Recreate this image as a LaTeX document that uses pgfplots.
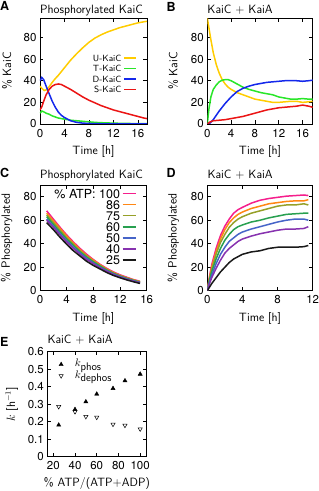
\documentclass[border=0pt]{standalone}
\usepackage{pgfplots}
\pgfplotsset{compat=1.18}
\usepackage{fontspec}
\newfontfamily\heros{TeX Gyre Heros}
\definecolor{cU}{RGB}{255,204,0}
\definecolor{cT}{RGB}{40,230,40}
\definecolor{cD}{RGB}{20,40,235}
\definecolor{cS}{RGB}{235,20,20}
\definecolor{p100}{RGB}{245,30,140}
\definecolor{p86}{RGB}{255,135,20}
\definecolor{p75}{RGB}{150,160,40}
\definecolor{p60}{RGB}{40,160,80}
\definecolor{p50}{RGB}{70,100,200}
\definecolor{p40}{RGB}{135,50,175}
\definecolor{p25}{RGB}{25,25,25}
\pgfplotsset{
  panel/.style={
    scale only axis, anchor=south west,
    tick align=inside, major tick length=3.5pt, minor tick num=0,
    axis line style={line width=0.7pt},
    every tick/.style={black, line width=0.6pt},
    /pgf/number format/assume math mode=true,
    ticklabel style={font=\heros\fontsize{11.5}{12}\selectfont},
    xticklabel style={yshift=-1.5pt},
    label style={font=\sffamily\fontsize{12}{13}\selectfont},
    title style={at={(0,1)}, anchor=base west, inner sep=0pt, font=\sffamily\fontsize{12}{13}\selectfont},
    xlabel style={at={(axis description cs:0.5,0)}, anchor=center},
    ylabel style={at={(axis description cs:0,0.5)}, anchor=center},
  },
  dl/.style={line width=1.5pt, no marks},
}
\begin{document}
\begin{tikzpicture}
\path[use as bounding box] (0pt,0pt) rectangle (319pt,491pt);
\tikzset{plabel/.style={anchor=north west, inner sep=0pt, font=\heros\bfseries\fontsize{12.5}{13}\selectfont}}
\node[plabel] at (0pt,490pt) {A};
\node[plabel] at (166.5pt,489pt) {B};
\node[plabel] at (0pt,323pt) {C};
\node[plabel] at (166.5pt,323pt) {D};
\node[plabel] at (0pt,154pt) {E};

% ---------- A ----------
\begin{axis}[panel, at={(40pt,367pt)}, width=107pt, height=106pt,
  xmin=0, xmax=17.5, ymin=0, ymax=98,
  xtick={0,4,8,12,16}, ytick={0,20,40,60,80},
  title={Phosphorylated KaiC}, title style={yshift=-1pt},
  xlabel={Time [h]}, ylabel={\% KaiC},
  xlabel style={yshift=-28pt}, ylabel style={yshift=33pt},
  legend style={draw=none, fill=none, inner sep=0pt, at={(0.907,0.656)}, anchor=north east,
    font=\sffamily\fontsize{9}{10}\selectfont, row sep=4pt, column sep=2pt,
    nodes={inner sep=0pt, text height=6.5pt, text depth=0pt}},
  legend cell align=right, legend plot pos=right,
  legend image code/.code={\draw[#1] (0pt,0pt) -- (12pt,0pt);},
]
\addplot[dl, cU] coordinates {(0,35) (0.3,33) (0.7,31) (1,31.5) (1.5,34.5) (2,38.5) (2.5,42) (3,45) (4,52) (5,59) (6,65) (7,70.5) (8,75.5) (9,79.5) (10,82.5) (11,85) (12,87) (13,89) (14,90.5) (15,92) (16,93.5) (17,94.5) (17.5,95)};
\addplot[dl, cT] coordinates {(0,10) (0.3,12) (0.7,11) (1,10) (1.5,9) (2,7.5) (2.5,6.5) (3,5.5) (4,4.5) (5,3.5) (6,3) (7,2.5) (8,2) (9,1.5) (10,1.2) (12,0.8) (14,0.5) (16,0.4) (17.5,0.3)};
\addplot[dl, cD] coordinates {(0,40) (0.3,43) (0.6,41) (1,35) (1.5,28) (2,21) (2.5,15.5) (3,11) (3.5,8) (4,6) (5,3) (6,1.5) (7,0.8) (8,0.5) (10,0.2) (12,0.1) (17.5,0)};
\addplot[dl, cS] coordinates {(0,13) (0.3,16) (0.6,21) (1,27) (1.5,32) (2,35) (2.5,36.5) (3,37) (3.5,36.5) (4,35) (5,32) (6,28.5) (7,25) (8,22) (9,19.5) (10,17) (11,15) (12,13) (13,11.5) (14,10) (15,8.5) (16,7) (17,5.5) (17.5,5)};
\legend{U-KaiC, T-KaiC, D-KaiC, S-KaiC}
\end{axis}

% ---------- B ----------
\begin{axis}[panel, at={(207.3pt,367pt)}, width=105.4pt, height=106pt,
  xmin=0, xmax=17.7, ymin=0, ymax=98,
  xtick={0,4,8,12,16}, ytick={0,20,40,60,80},
  title={KaiC + KaiA}, title style={yshift=-1pt},
  xlabel={Time [h]}, ylabel={\% KaiC},
  xlabel style={yshift=-28pt}, ylabel style={yshift=34pt},
]
\addplot[dl, cU] coordinates {(0,98) (0.3,88) (0.6,78) (1,66) (1.5,55) (2,47) (2.5,41) (3,37) (3.5,34) (4,32) (5,29) (6,27) (7,25) (8,23) (9,22) (10,21) (11,20) (12,20) (13,20.5) (14,21) (15,21) (16,20) (17,20.5) (17.7,21)};
\addplot[dl, cT] coordinates {(0,0) (0.3,15) (0.6,25) (1,32) (1.5,36) (2,39) (2.5,40.5) (3,41) (3.5,41) (4,40) (4.5,38.5) (5,37) (6,34) (7,32) (8,30.5) (9,29) (10,28) (11,27) (12,25) (13,24) (14,23) (15,23) (16,23.5) (17,23) (17.7,23)};
\addplot[dl, cD] coordinates {(0,0) (0.5,1) (1,4) (2,12) (3,19) (4,25) (5,30) (6,33) (7,35) (8,36.5) (9,37.5) (10,38.5) (11,39) (12,39.5) (13,40) (14,40) (15,40) (16,39.5) (17,40) (17.7,40.5)};
\addplot[dl, cS] coordinates {(0,0) (0.5,2) (1,3) (2,3.5) (3,4) (4,5) (5,6) (6,7) (7,8.5) (8,10) (9,11.5) (10,13) (11,14) (12,15) (13,15.5) (14,16) (15,16.5) (16,17.5) (17,16.5) (17.7,15.5)};
\end{axis}

% ---------- C ----------
\begin{axis}[panel, at={(40pt,200.3pt)}, width=106.7pt, height=105.7pt,
  xmin=0, xmax=16, ymin=0, ymax=90,
  xtick={0,4,8,12,16}, ytick={0,20,40,60,80},
  title={Phosphorylated KaiC}, title style={yshift=0.5pt},
  xlabel={Time [h]}, ylabel={\% Phosphorylated},
  xlabel style={yshift=-27.5pt}, ylabel style={yshift=33.5pt},
  legend style={draw=none, fill=none, inner sep=0pt, at={(0.906,0.964)}, anchor=north east,
    font=\heros\fontsize{12.5}{13}\selectfont, row sep=2.1pt, column sep=2pt,
    nodes={inner sep=0pt, text height=9pt, text depth=0pt}},
  legend cell align=right, legend plot pos=right,
  legend image code/.code={\draw[#1] (0pt,0pt) -- (13pt,0pt);},
]
\addplot[dl, p100] coordinates {(1,68) (2,61) (3,54) (4,47.5) (5,41.5) (6,36) (7,31) (8,26.5) (9,22.5) (10,19) (11,16) (12,13.5) (13,11.5) (14,9.5) (15,8)};
\addplot[dl, p86] coordinates {(1,66) (2,59.5) (3,53) (4,46.5) (5,40.5) (6,35) (7,30) (8,26) (9,22) (10,18.5) (11,15.5) (12,13) (13,11) (14,9.2) (15,7.8)};
\addplot[dl, p75] coordinates {(1,64.5) (2,58) (3,51.5) (4,45) (5,39.5) (6,34) (7,29.5) (8,25) (9,21.5) (10,18) (11,15) (12,12.7) (13,10.7) (14,9) (15,7.5)};
\addplot[dl, p60] coordinates {(1,63) (2,56.5) (3,50) (4,44) (5,38.5) (6,33) (7,28.5) (8,24.5) (9,21) (10,17.5) (11,14.7) (12,12.4) (13,10.4) (14,8.7) (15,7.2)};
\addplot[dl, p50] coordinates {(1,61) (2,55) (3,48.5) (4,42.5) (5,37) (6,32) (7,27.5) (8,23.5) (9,20) (10,17) (11,14.2) (12,12) (13,10) (14,8.4) (15,7)};
\addplot[dl, p40] coordinates {(1,60) (2,54) (3,47.5) (4,41.5) (5,36) (6,31) (7,26.5) (8,23) (9,19.5) (10,16.5) (11,13.8) (12,11.6) (13,9.7) (14,8.1) (15,6.7)};
\addplot[dl, p25] coordinates {(1,58) (2,52) (3,45.5) (4,39.5) (5,34) (6,29.5) (7,25) (8,21.5) (9,18.5) (10,15.5) (11,13) (12,11) (13,9.2) (14,7.6) (15,6.2)};
\legend{\% ATP:\ 100, 86, 75, 60, 50, 40, 25}
\end{axis}

% ---------- D ----------
\begin{axis}[panel, at={(207.3pt,200.3pt)}, width=105.4pt, height=105.7pt,
  xmin=0, xmax=12, ymin=0, ymax=90,
  xtick={0,4,8,12}, ytick={0,20,40,60,80},
  title={KaiC + KaiA}, title style={yshift=0.5pt},
  xlabel={Time [h]}, ylabel={\% Phosphorylated},
  xlabel style={yshift=-27.5pt}, ylabel style={yshift=34pt},
]
\addplot[dl, p100] coordinates {(0,0) (0.25,12) (0.5,22) (1,36) (1.5,47) (2,55) (2.5,61) (3,66) (3.5,69) (4,71) (5,74.5) (6,77) (7,78.5) (8,79.5) (9,80.5) (10,81) (11,81.5) (11.5,81)};
\addplot[dl, p86] coordinates {(0,0) (0.25,11) (0.5,20) (1,33) (1.5,44) (2,52) (2.5,58) (3,62) (3.5,65) (4,67) (5,70) (6,72) (7,74) (8,75) (9,76) (10,76.5) (11,76.5) (11.5,77.5)};
\addplot[dl, p75] coordinates {(0,0) (0.25,10) (0.5,18) (1,31) (1.5,41) (2,48) (2.5,54) (3,58) (3.5,61) (4,63) (5,66) (6,68) (7,70) (8,72) (9,73) (10,73) (11,74) (11.5,73)};
\addplot[dl, p60] coordinates {(0,0) (0.25,9) (0.5,16) (1,27) (1.5,36) (2,43) (2.5,48) (3,52) (3.5,54.5) (4,56) (5,58.5) (6,60) (7,62) (8,63.5) (9,65) (10,65.5) (11,66) (11.5,66)};
\addplot[dl, p50] coordinates {(0,0) (0.25,7) (0.5,13) (1,23) (1.5,31) (2,37) (2.5,42) (3,45) (3.5,48) (4,50) (5,52.5) (6,54.5) (7,56.5) (8,58.5) (9,60) (10,61) (11,61) (11.5,60)};
\addplot[dl, p40] coordinates {(0,0) (0.25,6) (0.5,11) (1,19) (1.5,26) (2,32) (2.5,36) (3,39) (3.5,42) (4,44) (5,46.5) (6,48.5) (7,50) (8,51.5) (9,52.5) (10,52.5) (11,53) (11.5,54.5)};
\addplot[dl, p25] coordinates {(0,0) (0.25,3) (0.5,6) (1,11) (1.5,16) (2,20) (2.5,24) (3,27) (3.5,29) (4,31) (5,33) (6,34) (7,36) (8,37) (9,37) (10,37) (11,37.5) (11.5,38.5)};
\end{axis}

% ---------- E ----------
\begin{axis}[panel, at={(47.3pt,34.3pt)}, width=99.4pt, height=105pt,
  xmin=14.5, xmax=106, ymin=0, ymax=0.6,
  xtick={20,40,60,80,100}, ytick={0,0.1,0.2,0.3,0.4,0.5,0.6},
  yticklabels={0,0.1,0.2,0.3,0.4,0.5,0.6},
  title={KaiC + KaiA}, title style={yshift=2.3pt},
  xlabel={\% ATP/(ATP+ADP)}, ylabel={$k$ [h$^{-1}$]},
  xlabel style={yshift=-26.5pt}, ylabel style={yshift=35.5pt},
  legend style={draw=none, fill=none, inner sep=0pt, at={(0.085,0.93)}, anchor=north west,
    font=\fontsize{11}{12}\selectfont, row sep=0.8pt, column sep=2.5pt,
    nodes={inner sep=0pt, text height=7.5pt, text depth=3pt}},
  legend cell align=left,
  legend image code/.code={\path (0pt,0pt) coordinate (lgA) (16pt,0pt) coordinate (lgB); \draw[#1] plot coordinates {(5pt,0pt)};},
]
\addplot[only marks, mark=triangle*, mark size=2.4pt, black] coordinates {(25,0.181) (40,0.270) (50,0.314) (60,0.358) (75,0.390) (86,0.434) (100,0.472)};
\addplot[only marks, mark=triangle, mark size=2.4pt, black, mark options={rotate=180, line width=0.5pt}] coordinates {(25,0.286) (40,0.257) (50,0.229) (60,0.225) (75,0.185) (86,0.179) (100,0.158)};
\legend{$k_{\textsf{phos}}$, $k_{\textsf{dephos}}$}
\end{axis}
\end{tikzpicture}
\end{document}
